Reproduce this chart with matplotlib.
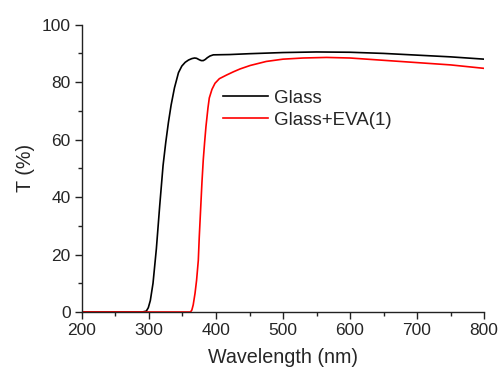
import matplotlib
matplotlib.use("Agg")
import matplotlib.pyplot as plt
from matplotlib.ticker import MultipleLocator

plt.rcParams['font.family'] = ['Liberation Sans', 'DejaVu Sans']

# Glass
glass_wl = [200, 250, 290, 296, 299, 302, 306, 311, 316, 321, 325, 329, 333, 338, 344, 349, 354, 359, 364, 368, 371, 375, 378, 381, 384, 387, 391, 396, 420, 450, 500, 550, 600, 650, 700, 750, 800]
glass_t = [0, 0, 0, 0.3, 1.5, 4, 10, 22, 37, 51, 59, 66, 72, 78, 83.3, 85.6, 86.9, 87.7, 88.2, 88.4, 88.3, 87.8, 87.5, 87.5, 87.9, 88.5, 89.1, 89.5, 89.6, 89.9, 90.3, 90.5, 90.4, 90.0, 89.4, 88.8, 88.0]

# Glass+EVA(1)
eva_wl = [200, 300, 362, 364, 366, 368.7, 371, 373.6, 375, 377, 379, 381, 383, 385, 388, 390, 394, 398.5, 405, 416, 426, 436, 451, 475, 500, 530, 565, 600, 650, 700, 750, 800]
eva_t = [0, 0, 0, 0.7, 2.5, 6.5, 11, 18, 26, 35.5, 45, 53, 59, 64.5, 71, 74.5, 77.5, 79.6, 81.2, 82.5, 83.6, 84.6, 85.8, 87.2, 88.0, 88.4, 88.6, 88.4, 87.6, 86.8, 86.0, 84.8]

series_labels = ['Glass', 'Glass+EVA(1)']

fig = plt.figure(figsize=(4.99, 3.70), dpi=100)
ax = fig.add_axes([0.1643, 0.1568, 0.8057, 0.7765])

ax.plot(glass_wl, glass_t, color='black', lw=1.2, label=series_labels[0])
ax.plot(eva_wl, eva_t, color='#ff0000', lw=1.2, label=series_labels[1])

ax.set_xlim(200, 800)
ax.set_ylim(0, 100)
ax.xaxis.set_major_locator(MultipleLocator(100))
ax.xaxis.set_minor_locator(MultipleLocator(50))
ax.yaxis.set_major_locator(MultipleLocator(20))
ax.yaxis.set_minor_locator(MultipleLocator(10))

for s in ['top', 'right']:
    ax.spines[s].set_visible(False)
for s in ['left', 'bottom']:
    ax.spines[s].set_color('#222222')
    ax.spines[s].set_linewidth(1.0)

ax.tick_params(which='major', direction='out', length=5, width=1.0, colors='#222222',
               labelsize=12.5, labelcolor='#262626', pad=3)
ax.tick_params(which='minor', direction='out', length=3, width=1.0, colors='#222222')

ax.set_xlabel('Wavelength (nm)', fontsize=14.2, color='#262626', labelpad=7)
ax.set_ylabel('T (%)', fontsize=14.2, color='#262626', labelpad=5)

leg = ax.legend(loc='upper left', bbox_to_anchor=(0.332, 0.80), frameon=False,
                fontsize=13.5, handlelength=2.4, handletextpad=0.3, labelspacing=0.25,
                borderaxespad=0)
for t in leg.get_texts():
    t.set_color('#262626')

fig.savefig('out.png', dpi=100)
